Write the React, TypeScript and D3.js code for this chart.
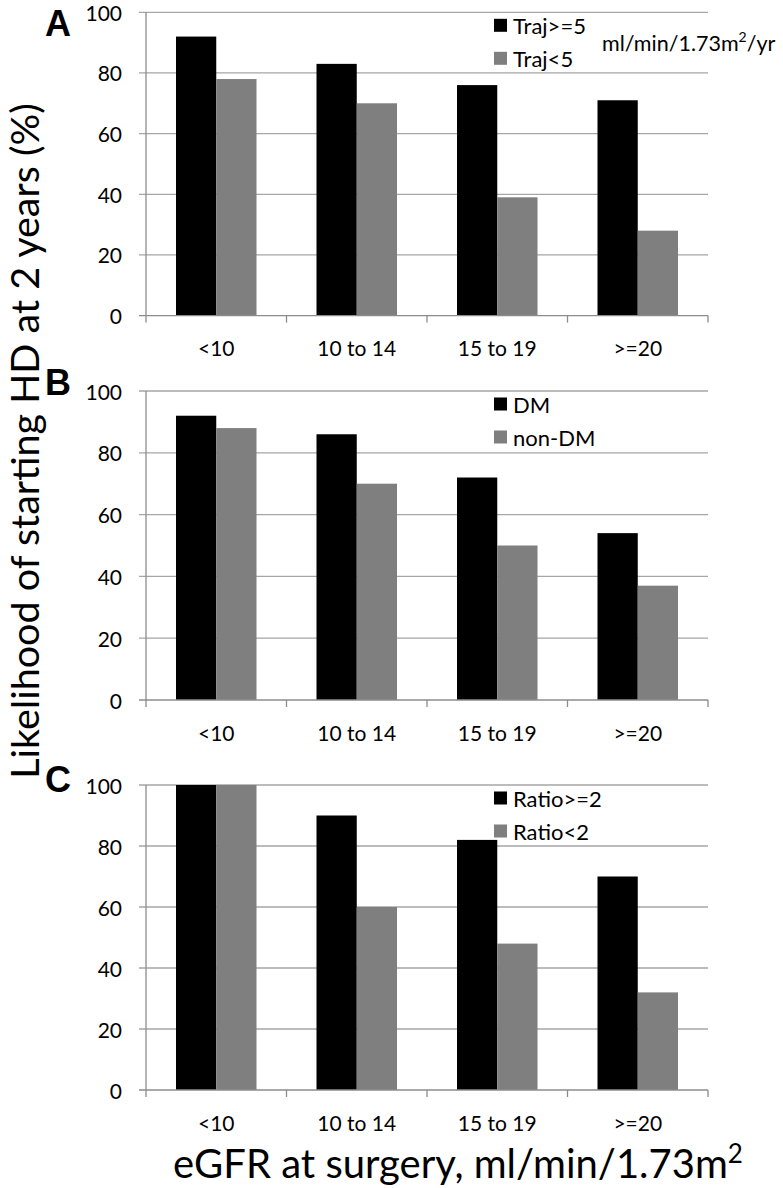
import React from "react";
import * as d3 from "d3";

const categories = ["<10", "10 to 14", "15 to 19", ">=20"];
const yTicks = [0, 20, 40, 60, 80, 100];

const seriesA = ["Traj>=5", "Traj<5"];
const valuesA1 = [92, 83, 76, 71];
const valuesA2 = [78, 70, 39, 28];

const seriesB = ["DM", "non-DM"];
const valuesB1 = [92, 86, 72, 54];
const valuesB2 = [88, 70, 50, 37];

const seriesC = ["Ratio>=2", "Ratio<2"];
const valuesC1 = [100, 90, 82, 70];
const valuesC2 = [100, 60, 48, 32];

const colors = ["#000000", "#7f7f7f"];
const FONT = "Lato, 'Open Sans', sans-serif";

type PanelProps = {
  letter: string;
  letterY: number;
  series: string[];
  values: number[][];
  top: number;
  bottom: number;
  extra?: boolean;
};

const X0 = 146;
const X1 = 708;

function Panel({ letter, letterY, series, values, top, bottom, extra }: PanelProps) {
  const y = d3.scaleLinear().domain([0, 100]).range([bottom, top]);
  const x = d3.scaleBand().domain(categories).range([X0, X1]).padding(0);
  const bw = x.bandwidth();
  const inner = d3.scaleBand().domain(series).range([bw * 0.2135, bw * 0.7865]).padding(0);
  return (
    <g>
      <text x={45} y={letterY} fontFamily="'Liberation Sans', Arial, sans-serif" fontWeight="bold" fontSize={36} fill="#000">
        {letter}
      </text>
      {yTicks.filter((t) => t > 0).map((t) => (
        <line key={t} x1={139} x2={X1} y1={y(t)} y2={y(t)} stroke="#a6a6a6" strokeWidth={1.3} />
      ))}
      {categories.map((c, i) =>
        series.map((s, j) => (
          <rect key={c + s} x={x(c)! + inner(s)!} y={y(values[j][i])} width={inner.bandwidth()} height={y(0) - y(values[j][i])} fill={colors[j]} />
        ))
      )}
      <line x1={139} x2={X1} y1={y(0)} y2={y(0)} stroke="#8c8c8c" strokeWidth={1.3} />
      <line x1={X0} x2={X0} y1={y(100)} y2={y(0) + 7} stroke="#8c8c8c" strokeWidth={1.3} />
      {categories.map((c) => (
        <line key={"t" + c} x1={x(c)! + bw} x2={x(c)! + bw} y1={y(0)} y2={y(0) + 7} stroke="#8c8c8c" strokeWidth={1.3} />
      ))}
      {yTicks.map((t) => (
        <text key={"l" + t} x={122} y={y(t)} textAnchor="end" dominantBaseline="central" fontFamily={FONT} fontSize={21} fill="#000">
          {t}
        </text>
      ))}
      {categories.map((c) => (
        <text key={"c" + c} x={x(c)! + bw / 2} y={y(0) + 32} textAnchor="middle" dominantBaseline="central" fontFamily={FONT} fontSize={21} fill="#000">
          {c}
        </text>
      ))}
      {series.map((s, j) => (
        <g key={"lg" + s}>
          <rect x={494} y={top + 13 + j * 33 - 6.5} width={13} height={13} fill={colors[j]} />
          <text x={513} y={top + 13 + j * 33} dominantBaseline="central" fontFamily={FONT} fontSize={22} fill="#000">
            {s}
          </text>
        </g>
      ))}
      {extra && (
        <text x={602} y={top + 31} dominantBaseline="central" fontFamily={FONT} fontSize={21.5} fill="#000">
          ml/min/1.73m<tspan dy={-7} fontSize={14}>2</tspan>
          <tspan dy={7}>/yr</tspan>
        </text>
      )}
    </g>
  );
}

export default function App() {
  return (
    <svg width={783} height={1188} style={{ position: "absolute", left: 0, top: 0, background: "#fff" }}>
      <rect x={0} y={0} width={783} height={1188} fill="#fff" />
      <Panel letter="A" letterY={36} series={seriesA} values={[valuesA1, valuesA2]} top={12.3} bottom={315.6} extra />
      <Panel letter="B" letterY={395} series={seriesB} values={[valuesB1, valuesB2]} top={391} bottom={700} />
      <Panel letter="C" letterY={792} series={seriesC} values={[valuesC1, valuesC2]} top={785} bottom={1090} />
      <text transform="translate(39,441) rotate(-90)" textAnchor="middle" fontFamily={FONT} fontSize={39.5} fill="#000">
        Likelihood of starting HD at 2 years (%)
      </text>
      <text x={458} y={1178} textAnchor="middle" fontFamily={FONT} fontSize={40} fill="#000">
        eGFR at surgery, ml/min/1.73m<tspan dy={-15} fontSize={26}>2</tspan>
      </text>
    </svg>
  );
}
